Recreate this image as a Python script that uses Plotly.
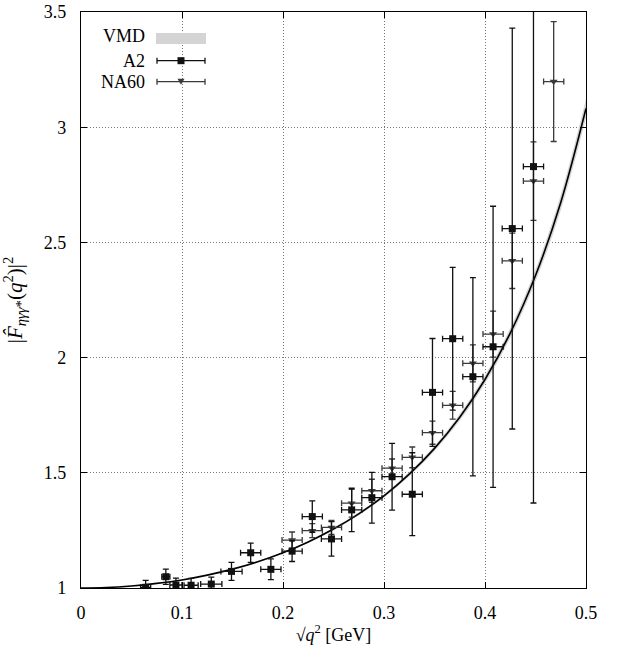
import plotly.graph_objects as go

# ---------------- data ----------------
a2_x = [0.064, 0.084, 0.094, 0.109, 0.129, 0.149, 0.168, 0.188, 0.209, 0.229,
        0.248, 0.268, 0.288, 0.308, 0.328, 0.348, 0.368, 0.388, 0.408, 0.427, 0.448]
a2_y = [1.003, 1.049, 1.013, 1.012, 1.017, 1.072, 1.153, 1.081, 1.160, 1.310,
        1.213, 1.339, 1.392, 1.483, 1.407, 1.849, 2.082, 1.917, 2.047, 2.560, 2.829]
a2_yerr = [0.03, 0.033, 0.03, 0.03, 0.03, 0.039, 0.042, 0.045, 0.045, 0.068,
           0.075, 0.094, 0.11, 0.145, 0.18, 0.234, 0.31, 0.43, 0.61, 0.87, 1.46]
a2_xerr = [0.005, 0.004, 0.006, 0.007, 0.0105, 0.0105, 0.01, 0.01, 0.01, 0.01,
           0.01, 0.01, 0.01, 0.01, 0.01, 0.01, 0.01, 0.01, 0.01, 0.01, 0.01]

na60_x = [0.209, 0.229, 0.248, 0.268, 0.288, 0.308, 0.328, 0.348, 0.368,
          0.388, 0.408, 0.427, 0.448, 0.468]
na60_y = [1.208, 1.249, 1.263, 1.368, 1.422, 1.520, 1.567, 1.674, 1.793,
          1.975, 2.102, 2.420, 2.766, 3.198]
na60_yerr = [0.035, 0.03, 0.03, 0.06, 0.05, 0.04, 0.045, 0.05, 0.06,
             0.08, 0.10, 0.12, 0.17, 0.26]
na60_xerr = [0.01] * len(na60_x)

vmd_x = [0.0, 0.025, 0.05, 0.075, 0.1, 0.125, 0.15, 0.175, 0.2, 0.225, 0.25,
         0.275, 0.3, 0.325, 0.35, 0.375, 0.4, 0.425, 0.45, 0.475, 0.5]
vmd_y = [1.0, 1.002, 1.009, 1.020, 1.035, 1.056, 1.082, 1.114, 1.153, 1.200, 1.256,
         1.322, 1.400, 1.494, 1.606, 1.741, 1.905, 2.106, 2.356, 2.673, 3.081]
vmd_lo = [1.0, 1.002, 1.009, 1.019, 1.034, 1.055, 1.080, 1.112, 1.150, 1.196, 1.251,
          1.316, 1.393, 1.485, 1.595, 1.727, 1.888, 2.085, 2.330, 2.640, 3.040]
vmd_hi = [1.0, 1.002, 1.009, 1.021, 1.036, 1.057, 1.084, 1.116, 1.156, 1.204, 1.261,
          1.328, 1.407, 1.503, 1.617, 1.755, 1.922, 2.127, 2.382, 2.706, 3.122]

x_ticks = [0, 0.1, 0.2, 0.3, 0.4, 0.5]
x_ticklabels = ["0", "0.1", "0.2", "0.3", "0.4", "0.5"]
y_ticks = [1, 1.5, 2, 2.5, 3, 3.5]
y_ticklabels = ["1", "1.5", "2", "2.5", "3", "3.5"]

FONT = "Liberation Serif"
NA60_COL = "#3a3a3a"

W, H = 618, 655
ML, MT = 81, 12
MR = W - 586
MB = H - 588

fig = go.Figure()

# VMD band
fig.add_trace(go.Scatter(x=vmd_x, y=vmd_lo, mode="lines", line=dict(width=0, shape="spline"),
                         hoverinfo="skip", showlegend=False))
fig.add_trace(go.Scatter(x=vmd_x, y=vmd_hi, mode="lines", line=dict(width=0, shape="spline"),
                         fill="tonexty", fillcolor="#d4d4d4", hoverinfo="skip", showlegend=False))
fig.add_trace(go.Scatter(x=vmd_x, y=vmd_y, mode="lines",
                         line=dict(color="black", width=1.6, shape="spline"), showlegend=False))

# NA60
fig.add_trace(go.Scatter(
    x=na60_x, y=na60_y, mode="markers",
    marker=dict(symbol="triangle-down", size=7, color=NA60_COL),
    error_y=dict(type="data", array=na60_yerr, color=NA60_COL, thickness=1.3, width=3),
    error_x=dict(type="data", array=na60_xerr, color=NA60_COL, thickness=1.3, width=3),
    showlegend=False))

# A2
fig.add_trace(go.Scatter(
    x=a2_x, y=a2_y, mode="markers",
    marker=dict(symbol="square", size=7, color="#111111"),
    error_y=dict(type="data", array=a2_yerr, color="#111111", thickness=1.3, width=3),
    error_x=dict(type="data", array=a2_xerr, color="#111111", thickness=1.3, width=3),
    showlegend=False))

# ---------------- manual legend (gnuplot style: label then sample) ----------------
PW = 586 - 81
PH = 588 - 12

def px2x(px):
    return (px - 81) / PW

def py2y(py):
    return (588 - py) / PH

shapes = []
annotations = []
labels = [("VMD", 36), ("A2", 60.7), ("NA60", 81.7)]
for txt, py in labels:
    annotations.append(dict(x=px2x(147), y=py2y(py), xref="paper", yref="paper",
                            text=txt, showarrow=False, xanchor="right", yanchor="middle",
                            font=dict(family=FONT, size=18, color="black")))
# VMD sample
shapes.append(dict(type="rect", xref="paper", yref="paper",
                   x0=px2x(156), x1=px2x(206), y0=py2y(44), y1=py2y(33),
                   fillcolor="#d4d4d4", line=dict(width=0)))
for py, col in [(60.7, "#111111"), (81.7, NA60_COL)]:
    shapes.append(dict(type="line", xref="paper", yref="paper",
                       x0=px2x(157), x1=px2x(205), y0=py2y(py), y1=py2y(py),
                       line=dict(color=col, width=1.3)))
    for ex in (157, 205):
        shapes.append(dict(type="line", xref="paper", yref="paper",
                           x0=px2x(ex), x1=px2x(ex), y0=py2y(py - 3), y1=py2y(py + 3),
                           line=dict(color=col, width=1.3)))
# A2 square
shapes.append(dict(type="rect", xref="paper", yref="paper",
                   x0=px2x(177.5), x1=px2x(184.5), y0=py2y(64.2), y1=py2y(57.2),
                   fillcolor="#111111", line=dict(width=0)))
# NA60 triangle
tx0, tx1, tx2 = px2x(177.5), px2x(184.5), px2x(181)
ty0, ty2 = py2y(78.7), py2y(84.7)
shapes.append(dict(type="path", xref="paper", yref="paper",
                   path=f"M {tx0} {ty0} L {tx1} {ty0} L {tx2} {ty2} Z",
                   fillcolor=NA60_COL, line=dict(width=0)))

axis_common = dict(
    showline=True, linecolor="black", linewidth=1.2, mirror="allticks",
    ticks="inside", ticklen=6, tickcolor="black", tickwidth=1,
    showgrid=True, gridcolor="#777777", gridwidth=1, griddash="1px,2px",
    zeroline=False, automargin=False, ticklabeloverflow="allow",
    tickfont=dict(family=FONT, size=18, color="black"),
)

fig.update_xaxes(range=[0, 0.5], tickvals=x_ticks, ticktext=x_ticklabels,
                 ticklabelstandoff=8,
                 title=dict(text="√<i>q</i><sup>2</sup> [GeV]", standoff=6,
                            font=dict(family=FONT, size=18, color="black")),
                 **axis_common)
fig.update_yaxes(range=[1, 3.5], tickvals=y_ticks, ticktext=y_ticklabels,
                 ticklabelstandoff=10,
                 title=dict(text="|<i>F̂</i><sub><i>ηγγ</i>*</sub>(<i>q</i><sup>2</sup>)|<sup>2</sup>",
                            standoff=20, font=dict(family=FONT, size=21, color="black")),
                 **axis_common)

fig.update_layout(
    width=W, height=H,
    margin=dict(l=ML, r=MR, t=MT, b=MB),
    plot_bgcolor="white", paper_bgcolor="white",
    shapes=shapes, annotations=annotations,
    showlegend=False,
)

# remove the page's default body margin so the figure fills the window exactly
fig.write_html("out.html", config={"displayModeBar": False},
               post_script="document.body.style.margin='0px';")
